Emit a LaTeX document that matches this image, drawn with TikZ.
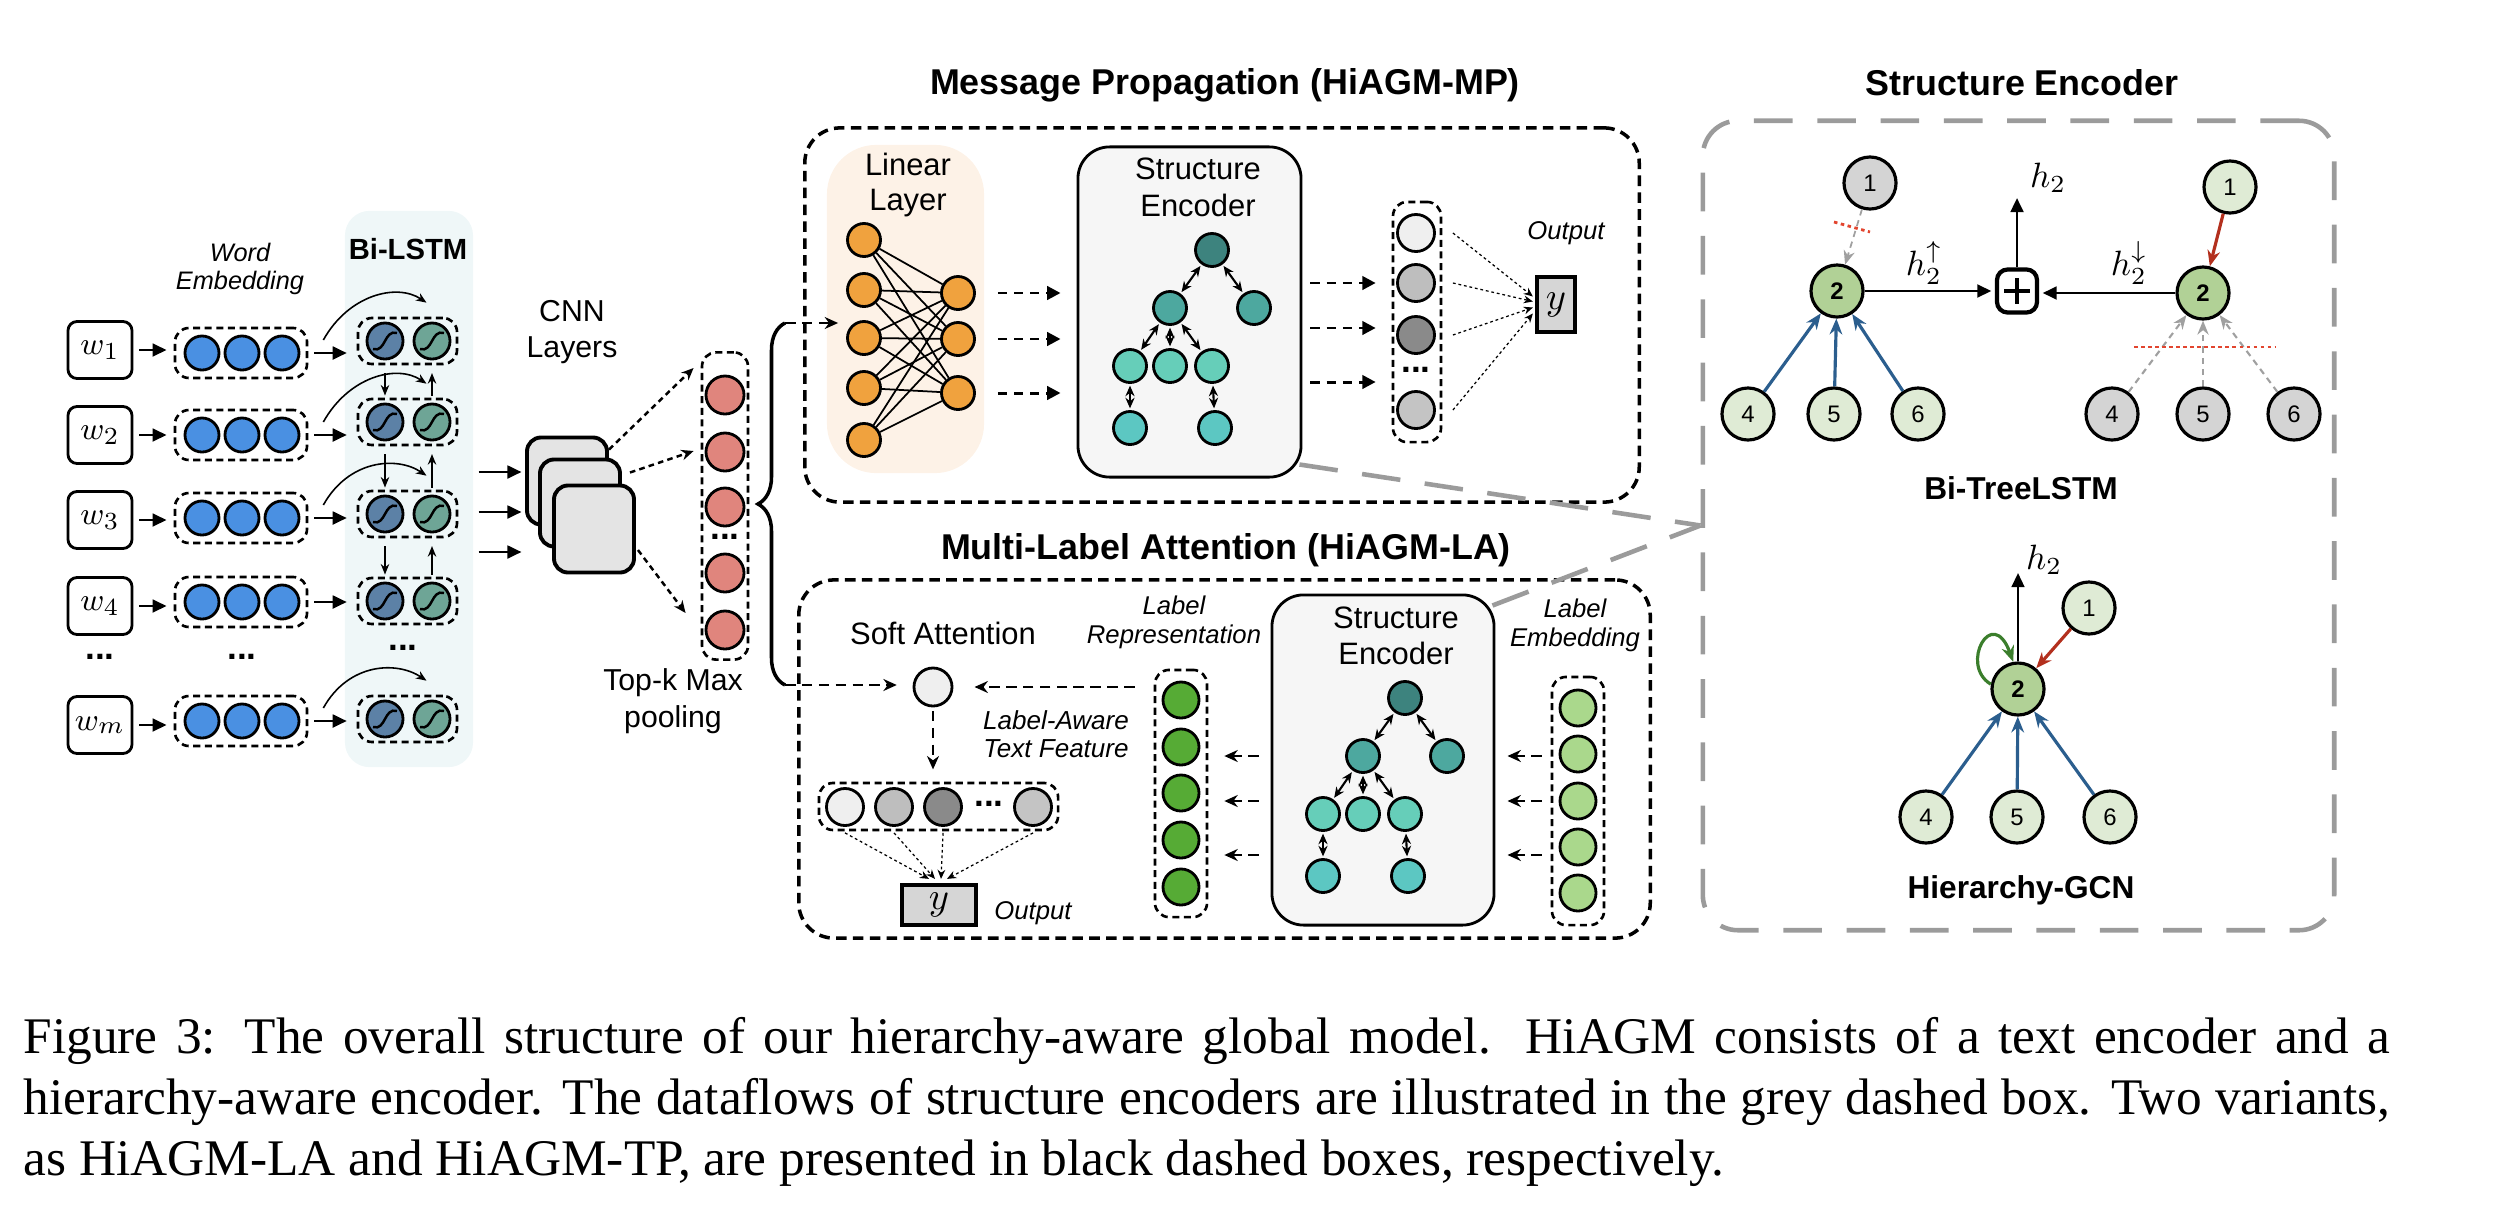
\documentclass[tikz,border=0pt]{standalone}
\usepackage{fontspec}
\setmainfont{Liberation Sans}
\newfontfamily\seriffont{Liberation Serif}
\usetikzlibrary{arrows.meta,calc,decorations.pathreplacing}

\definecolor{embblue}{HTML}{4A90E2}
\definecolor{lstmA}{HTML}{5C81A6}
\definecolor{lstmB}{HTML}{6EA596}
\definecolor{lstmbg}{HTML}{EFF7F8}
\definecolor{cnngrey}{HTML}{E4E4E4}
\definecolor{cpink}{HTML}{E0857D}
\definecolor{corange}{HTML}{F0A23E}
\definecolor{linbg}{HTML}{FDF2E7}
\definecolor{sebg}{HTML}{F6F6F6}
\definecolor{tA}{HTML}{3D837E}
\definecolor{tB}{HTML}{4DA89F}
\definecolor{tC}{HTML}{66CEB9}
\definecolor{tD}{HTML}{5CC7C2}
\definecolor{og1}{HTML}{EFEFEF}
\definecolor{og2}{HTML}{BEBEBE}
\definecolor{og3}{HTML}{8A8A8A}
\definecolor{og4}{HTML}{C4C4C4}
\definecolor{lrep}{HTML}{56AB35}
\definecolor{lemb}{HTML}{AAD88C}
\definecolor{ngreen}{HTML}{B1D196}
\definecolor{npale}{HTML}{DFEBD5}
\definecolor{ngrey}{HTML}{D4D4D4}
\definecolor{eblue}{HTML}{2B5E8E}
\definecolor{ered}{HTML}{B3301E}
\definecolor{egreen}{HTML}{3B7E2C}
\definecolor{gbcol}{HTML}{9B9B9B}
\definecolor{ygrey}{HTML}{D6D6D6}
\definecolor{rdot}{HTML}{E2452F}
\definecolor{garrow}{HTML}{A0A0A0}

\tikzset{
  ball/.style={circle,draw=black,line width=0.8pt,inner sep=0pt,minimum size=#1},
  ball/.default=0.34cm,
  lstmcell/.style={ball=0.36cm,path picture={\draw[line width=0.7pt]
     ([shift={(-12,8)}]path picture bounding box.center) .. controls
     ([shift={(1,12)}]path picture bounding box.center) and
     ([shift={(-1,-12)}]path picture bounding box.center) ..
     ([shift={(12,-8)}]path picture bounding box.center);}},
  grp/.style={draw=black,line width=0.75pt,dash pattern=on 2pt off 1.3pt,rounded corners=4pt,inner sep=0pt},
  wbox/.style={draw=black,line width=0.8pt,rounded corners=2.6pt,minimum width=0.64cm,minimum height=0.57cm,inner sep=0pt,font=\fontsize{9.5}{10}\selectfont},
  bigbox/.style={draw=black,line width=1pt,dash pattern=on 3pt off 1.8pt,rounded corners=10pt,inner sep=0pt},
  sebox/.style={draw=black,line width=0.8pt,fill=sebg,rounded corners=9pt,inner sep=0pt},
  cnnbox/.style={draw=black,line width=1.1pt,fill=cnngrey,rounded corners=4pt,inner sep=0pt,minimum width=0.80cm,minimum height=0.87cm},
  ybox/.style={draw=black,line width=1.2pt,fill=ygrey,inner sep=0pt,font=\fontsize{10.5}{11}\selectfont},
  solidar/.style={line width=0.8pt,-{Triangle[length=4pt,width=3.6pt]}},
  thinar/.style={line width=0.45pt,-{Stealth[length=3pt,width=2.4pt]}},
  dotar/.style={line width=0.85pt,dash pattern=on 2.6pt off 2pt,-{Triangle[length=3.8pt,width=3.8pt]}},
  dashar/.style={line width=0.8pt,dash pattern=on 3pt off 1.8pt,-{Stealth[length=3.8pt,width=3.4pt]}},
  cnnar/.style={line width=0.7pt,dash pattern=on 1.6pt off 1.2pt,-{Stealth[length=3.5pt,width=3pt]}},
  biar/.style={line width=0.6pt,{Stealth[length=3pt,width=2.6pt]}-{Stealth[length=3pt,width=2.6pt]}},
  finear/.style={line width=0.35pt,dash pattern=on 0.8pt off 0.8pt,-{Stealth[length=2.6pt,width=2.2pt]}},
  tnode/.style={circle,draw=black,line width=0.9pt,inner sep=0pt,minimum size=0.52cm,font=\fontsize{6.8}{7}\selectfont},
  tball/.style={ball=0.33cm},
  blar/.style={draw=eblue,line width=0.9pt,-{Stealth[length=4.5pt,width=3.6pt,fill=eblue]}},
  redar/.style={draw=ered,line width=0.9pt,-{Stealth[length=4.5pt,width=3.6pt,fill=ered]}},
  greenar/.style={draw=egreen,line width=0.9pt,-{Stealth[length=4.5pt,width=3.6pt,fill=egreen]}},
  greyar/.style={draw=garrow,line width=0.6pt,dash pattern=on 1.8pt off 1.4pt,-{Stealth[length=4pt,width=3.2pt,fill=garrow]}},
  reddot/.style={draw=rdot,line width=0.8pt,dash pattern=on 1pt off 1pt},
  gline/.style={draw=gbcol,line width=1.3pt,dash pattern=on 11pt off 7pt},
  ttl/.style={inner sep=0pt,font=\bfseries\fontsize{10.2}{12}\selectfont},
  lbl/.style={inner sep=0pt,align=center,font=\fontsize{8.8}{10.2}\selectfont},
  itl/.style={inner sep=0pt,align=center,font=\itshape\fontsize{7.3}{8.2}\selectfont},
  boldlbl/.style={inner sep=0pt,font=\bfseries\fontsize{9}{11}\selectfont},
  mlab/.style={inner sep=0pt,font=\fontsize{10}{12}\selectfont},
  dotsty/.style={inner sep=0pt,font=\bfseries\fontsize{10}{10}\selectfont},
}

\begin{document}
\begin{tikzpicture}[x=0.01cm,y=-0.01cm]
\useasboundingbox (0,0) rectangle (2500,1218);

% ================= backgrounds
\node[fill=lstmbg,rounded corners=7pt,inner sep=0pt,minimum width=1.28cm,minimum height=5.56cm] (bilstm) at (409,489) {};
\node[fill=linbg,rounded corners=14pt,inner sep=0pt,minimum width=1.57cm,minimum height=3.28cm] (linbox) at (905.5,309) {};

% ================= text encoder
\node[itl,font=\itshape\fontsize{7.2}{8}\selectfont] (wordemb) at (240,269) {Word\\Embedding};
\node[inner sep=0pt,font=\bfseries\fontsize{8.3}{10}\selectfont] (bilstmT) at (408,249) {Bi-LSTM};

\foreach \i/\wy/\ey/\ly/\lab in {1/350/353/341/w_1,2/435/435/422/w_2,3/520/518/514/w_3,4/606/602/601/w_4,m/725/721/719/w_m}{
  \node[wbox] (w\i) at (100,\wy) {$\lab$};
  \node[grp,minimum width=1.32cm,minimum height=0.50cm] (e\i) at (241,\ey) {};
  \node[ball,fill=embblue] (ea\i) at (202,\ey) {};
  \node[ball,fill=embblue] (eb\i) at (242,\ey) {};
  \node[ball,fill=embblue] (ec\i) at (282,\ey) {};
  \node[grp,minimum width=0.99cm,minimum height=0.46cm] (ls\i) at (407.5,\ly) {};
  \node[lstmcell,fill=lstmA] (lsa\i) at (385,\ly) {};
  \node[lstmcell,fill=lstmB] (lsb\i) at (432,\ly) {};
  \draw[solidar,shorten <=1.7pt,shorten >=2pt] (w\i.east) -- (w\i.east -| e\i.west);
  \draw[solidar,shorten <=1.7pt,shorten >=2.8pt] (e\i.east) -- (e\i.east -| ls\i.west);
}
\foreach \i in {1,2,3,m}
  \draw[thinar] ($(e\i.east)+(15,-13)$) .. controls +(25,-45) and +(-30,-20) .. ($(ls\i.north)+(19,-14)$);
\foreach \a/\b in {1/2,2/3,3/4}{
  \draw[thinar,shorten <=2.2pt,shorten >=0.6pt] ($(ls\a.south)+(-22.5,0)$) -- ($(ls\b.north)+(-22.5,0)$);
  \draw[thinar,shorten <=0.6pt,shorten >=2.2pt] ($(ls\b.north)+(24.5,0)$) -- ($(ls\a.south)+(24.5,0)$);
}
\node[dotsty] (dw) at (100,657) {...};
\node[dotsty] (de) at (242,657) {...};
\node[dotsty] (dl) at (403,648) {...};

% ================= CNN
\node[lbl,font=\fontsize{8.6}{10}\selectfont] (cnnT) at (572,332) {CNN\\Layers};
\node[cnnbox] (cnn1) at (567,481) {};
\node[cnnbox] (cnn2) at (580,503) {};
\node[cnnbox] (cnn3) at (594,529) {};
\foreach \k/\yy in {1/472,2/512,3/552}{
  \coordinate (cin\k) at (500,\yy);
  \draw[solidar,shorten <=1.4pt,shorten >=1pt] (bilstm.east |- cin\k) -- (cnn1.west |- cin\k);
}

\node[grp,minimum width=0.46cm,minimum height=3.07cm] (pk) at (725,506) {};
\foreach \k/\yy in {1/395,2/452,3/507,4/573,5/630}
  \node[ball=0.38cm,fill=cpink] (p\k) at (725,\yy) {};
\node[dotsty] (dp) at (725,537) {...};
\draw[cnnar] ($(cnn1.north east)+(0,14)$) -- ($(p1.west)+(-11,-27)$);
\draw[cnnar] ($(cnn3.north east)+(-6,-11)$) -- ($(p2.west)+(-11,-1)$);
\draw[cnnar] ($(cnn3.east)+(2,21)$) -- ($(p5.west)+(-19,-17)$);
\node[lbl,font=\fontsize{8.6}{10.5}\selectfont] (topk) at (673,701) {Top-k Max\\pooling};

\draw[line width=1pt,decorate,decoration={brace,amplitude=0.27cm}] (785,685) -- (785,323);
\coordinate (bt) at (785,323);
\coordinate (bb) at (785,685);

% ================= Message propagation
\node[ttl] (mpT) at (1225,85) {Message Propagation (HiAGM-MP)};
\node[bigbox,minimum width=8.34cm,minimum height=3.74cm] (mp) at (1222,315) {};
\node[lbl] (linT) at (908,185) {Linear\\Layer};
\foreach \k/\yy in {1/240,2/290,3/338,4/388,5/440}
  \node[ball=0.33cm,fill=corange] (li\k) at (864,\yy) {};
\foreach \k/\yy in {1/293,2/339,3/393}
  \node[ball=0.33cm,fill=corange] (ro\k) at (958,\yy) {};
\foreach \a in {1,...,5}
  \foreach \b in {1,2,3}
    \draw[line width=0.5pt] (li\a) -- (ro\b);
\draw[dashar] (bt) -- ($(bt -| li3.west)+(-8,0)$);

\node[sebox,minimum width=2.23cm,minimum height=3.30cm] (se1) at (1189.5,312) {};
\node[lbl,font=\fontsize{8.8}{10.5}\selectfont] (se1T) at (1198,187) {Structure\\Encoder};
\foreach \b in {1,2,3}
  \draw[dotar] ($(ro\b.east)+(22,0)$) -- ($(ro\b.east -| se1.west)+(-16,0)$);

% structure encoder box of the attention variant (drawn before its tree)
\node[sebox,minimum width=2.22cm,minimum height=3.30cm] (se2) at (1383,760) {};
\node[lbl] (se2T) at (1396,636) {Structure\\Encoder};

% tree inside both structure encoders
\foreach \t/\rx/\ry in {mp/1212/250,la/1405/698}{
  \node[tball,fill=tA] (\t0) at (\rx,\ry) {};
  \node[tball,fill=tB] (\t1) at ({\rx-42},{\ry+58}) {};
  \node[tball,fill=tB] (\t2) at ({\rx+42},{\ry+58}) {};
  \node[tball,fill=tC] (\t3) at ({\rx-82},{\ry+116}) {};
  \node[tball,fill=tC] (\t4) at ({\rx-42},{\ry+116}) {};
  \node[tball,fill=tC] (\t5) at ({\rx},{\ry+116}) {};
  \node[tball,fill=tD] (\t6) at ({\rx-82},{\ry+178}) {};
  \node[tball,fill=tD] (\t7) at ({\rx+3},{\ry+178}) {};
  \foreach \u/\v in {0/1,0/2,1/3,1/4,1/5,3/6,5/7}
    \draw[biar,shorten <=0.5pt,shorten >=0.5pt] (\t\u) -- (\t\v);
}

\node[grp,minimum width=0.48cm,minimum height=2.40cm] (og) at (1417,322) {};
\node[ball=0.37cm,fill=og1] (o1) at (1416,233) {};
\node[ball=0.37cm,fill=og2] (o2) at (1416,283) {};
\node[ball=0.37cm,fill=og3] (o3) at (1416,335) {};
\node[ball=0.37cm,fill=og4] (o4) at (1416,410) {};
\node[dotsty] (dout) at (1416,370) {...};
\foreach \yy in {283,328,382}
  \draw[dotar] ($(se1.east |- 0,\yy)+(8,0)$) -- ($(og.west |- 0,\yy)+(-16,0)$);
\node[ybox,minimum width=0.38cm,minimum height=0.55cm] (y1) at (1556,304.5) {$y$};
\foreach \k/\dy in {1/-8,2/-3,3/3,4/9}
  \draw[finear] ($(o\k.east)+(17,0)$) -- ($(y1.west)+(-2,\dy)$);
\node[itl] (out1) at (1566,233) {Output};

% ================= Multi-label attention
\node[ttl] (laT) at (1226,550) {Multi-Label Attention (HiAGM-LA)};
\node[bigbox,minimum width=8.51cm,minimum height=3.58cm] (la) at (1224.5,759) {};
\node[lbl] (softT) at (943,633) {Soft Attention};
\node[ball=0.38cm,fill=og1] (att) at (933,687) {};
\draw[dashar,shorten >=4.5pt] (bb) -- (bb -| att.west);

\node[grp,minimum width=0.52cm,minimum height=2.47cm] (lrg) at (1181,793.5) {};
\foreach \k/\yy in {1/700,2/747,3/793,4/840,5/887}
  \node[ball=0.36cm,fill=lrep] (lr\k) at (1181,\yy) {};
\node[itl,font=\itshape\fontsize{7.3}{8.3}\selectfont] (lrT) at (1174,622) {Label\\Representation};
\draw[dashar,shorten >=6pt] ($(att.east -| lrg.west)+(-19,0)$) -- (att.east);

\node[itl,font=\itshape\fontsize{7.4}{8}\selectfont] (latf) at (1056,734) {Label-Aware\\Text Feature};
\node[grp,minimum width=2.39cm,minimum height=0.47cm] (atg) at (938.5,806.5) {};
\node[ball=0.37cm,fill=og1] (a1) at (845,807) {};
\node[ball=0.37cm,fill=og2] (a2) at (894,807) {};
\node[ball=0.37cm,fill=og3] (a3) at (943,807) {};
\node[ball=0.37cm,fill=og4] (a4) at (1033,807) {};
\node[dotsty] (datt) at (989,804) {...};
\draw[dashar,shorten <=1pt,shorten >=3.5pt] (att.south) -- (att.south |- atg.north);
\node[ybox,minimum width=0.74cm,minimum height=0.40cm] (y2) at (939,905) {$y$};
\foreach \k/\dx in {1/-10,2/-4,3/2,4/8}
  \draw[finear] ($(a\k.south)+(0,6)$) -- ($(y2.north)+(\dx,-4)$);
\node[itl] (out2) at (1033,913) {Output};

\node[grp,minimum width=0.52cm,minimum height=2.48cm] (leg) at (1578,801) {};
\foreach \k/\yy in {1/708,2/754,3/801,4/847,5/893}
  \node[ball=0.36cm,fill=lemb] (le\k) at (1578,\yy) {};
\node[itl] (leT) at (1575,625) {Label\\Embedding};
\foreach \yy in {756,801,855}{
  \draw[dashar] ($(se2.west |- 0,\yy)+(-12,0)$) -- ($(lrg.east |- 0,\yy)+(16,0)$);
  \draw[dashar] ($(leg.west |- 0,\yy)+(-9,0)$) -- ($(se2.east |- 0,\yy)+(12,0)$);
}

% ================= grey structure encoder box
\node[ttl] (seT) at (2022,83) {Structure Encoder};
\node[draw=gbcol,line width=1.3pt,dash pattern=on 11pt off 7pt,rounded corners=10pt,inner sep=0pt,minimum width=6.31cm,minimum height=8.09cm] (gb) at (2018.5,525.5) {};
\draw[gline] ($(se1.south east)+(-3,-14)$) -- (gb.west);
\draw[gline] ($(se2.north east)+(-3,12)$) -- (gb.west);

% Bi-TreeLSTM
\node[tnode,fill=ngrey] (A1) at (1870,183) {1};
\node[tnode,fill=ngreen] (A2) at (1837,291) {\bfseries 2};
\node[tnode,fill=npale] (A4) at (1748,414) {4};
\node[tnode,fill=npale] (A5) at (1834,414) {5};
\node[tnode,fill=npale] (A6) at (1918,414) {6};
\foreach \k in {4,5,6} \draw[blar] (A\k) -- (A2);
\draw[greyar,line width=0.5pt] (A1) -- (A2);
\draw[reddot] ($(A1)+(-36,39)$) -- ($(A1)+(0,49)$);

\node[draw=black,line width=1.2pt,rounded corners=3pt,inner sep=0pt,minimum width=0.40cm,minimum height=0.43cm] (plus) at (2017,291) {};
\draw[line width=1pt] ($(plus.center)+(-13,0)$) -- ($(plus.center)+(13,0)$);
\draw[line width=1pt] ($(plus.center)+(0,-13)$) -- ($(plus.center)+(0,13)$);
\draw[solidar,shorten >=1pt] (A2.east) -- (A2.east -| plus.west);
\node[mlab] (hup) at (1924,263) {$h_2^{\uparrow}$};

\node[tnode,fill=npale] (B1) at (2230,187) {1};
\node[tnode,fill=ngreen] (B2) at (2203,293) {\bfseries 2};
\node[tnode,fill=ngrey] (B4) at (2112,414) {4};
\node[tnode,fill=ngrey] (B5) at (2203,414) {5};
\node[tnode,fill=ngrey] (B6) at (2294,414) {6};
\draw[solidar,shorten >=1pt] (B2.west) -- (B2.west -| plus.east);
\node[mlab] (hdn) at (2129,263) {$h_2^{\downarrow}$};
\coordinate (htop) at (2017,198);
\draw[solidar] (plus.north) -- (htop);
\node[mlab] (h2a) at (2048,178) {$h_2$};
\draw[redar] (B1) -- (B2);
\foreach \k in {4,5,6} \draw[greyar] (B\k) -- (B2);
\draw[reddot] ($(B2)+(-69,54)$) -- ($(B2)+(72,54)$);
\node[boldlbl] (btl) at (2021,488) {Bi-TreeLSTM};

% Hierarchy-GCN
\node[tnode,fill=ngreen] (G2) at (2018,689) {\bfseries 2};
\node[tnode,fill=npale] (G1) at (2089,608) {1};
\node[tnode,fill=npale] (G4) at (1926,817) {4};
\node[tnode,fill=npale] (G5) at (2017,817) {5};
\node[tnode,fill=npale] (G6) at (2110,817) {6};
\coordinate (gtop) at (2018,573);
\draw[solidar,line width=0.7pt] (G2.north) -- (gtop);
\node[mlab] (h2b) at (2044,560) {$h_2$};
\draw[redar] (G1) -- (G2);
\draw[greenar] (G2.170) .. controls +(-32,-19) and +(-21,-58) .. (G2.100);
\foreach \k in {4,5,6} \draw[blar] (G\k) -- (G2);
\node[boldlbl] (gcn) at (2021,890) {Hierarchy-GCN};

% ================= caption
\node[anchor=base west,inner sep=0pt,font=\seriffont\fontsize{14.6}{17.6}\selectfont] (cap1) at (23,1053)
  {\makebox[673pt][s]{Figure 3: The overall structure of our hierarchy-aware global model. HiAGM consists of a text encoder and a}};
\node[anchor=base west,inner sep=0pt,font=\seriffont\fontsize{14.6}{17.6}\selectfont] (cap2) at (23,1114)
  {\makebox[673pt][s]{hierarchy-aware encoder. The dataflows of structure encoders are illustrated in the grey dashed box. Two variants,}};
\node[anchor=base west,inner sep=0pt,font=\seriffont\fontsize{14.6}{17.6}\selectfont] (cap3) at (23,1175)
  {as HiAGM-LA and HiAGM-TP, are presented in black dashed boxes, respectively.};
\end{tikzpicture}
\end{document}
